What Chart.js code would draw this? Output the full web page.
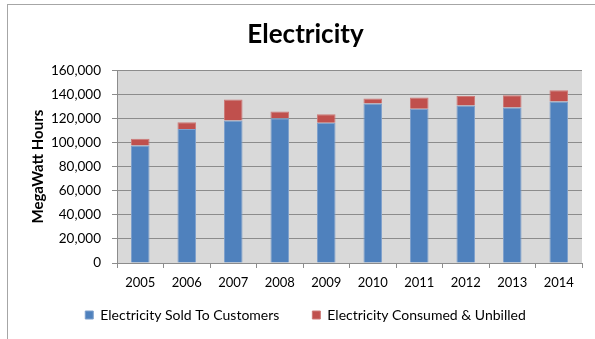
<!DOCTYPE html>
<html>
<head>
<meta charset="utf-8">
<script src="https://cdn.jsdelivr.net/npm/chart.js@4"></script>
<style>
  html, body { margin: 0; padding: 0; background: #fff; }
  #wrap { position: relative; width: 595px; height: 339px; }
  #frame { position: absolute; left: 7px; top: 4px; width: 600px; height: 340px;
           border-top: 1px solid #a6a6a6; border-left: 1px solid #a6a6a6; }
  canvas { position: absolute; left: 0; top: 0; }
</style>
</head>
<body>
<div id="wrap">
  <div id="frame"></div>
  <canvas id="elecChart" width="595" height="339"></canvas>
</div>
<script>
// values (MWh)
const years = ['2005', '2006', '2007', '2008', '2009', '2010', '2011', '2012', '2013', '2014'];
const soldToCustomers = [97600, 111100, 118300, 120200, 116400, 132400, 128000, 130800, 129100, 134100];
const consumedUnbilled = [5500, 5800, 17400, 5600, 7100, 4100, 9400, 7700, 10200, 9300];

const fontFamily = 'Lato, "Open Sans", sans-serif';

// grey plot background like the original
const plotBackground = {
    id: 'plotBackground',
    beforeDraw(chart) {
        const a = chart.chartArea;
        const ctx = chart.ctx;
        ctx.save();
        ctx.fillStyle = '#d9d9d9';
        ctx.fillRect(a.left, a.top, a.right - a.left, a.bottom - a.top);
        ctx.restore();
    }
};

// legend padding is wide (for the gap between items) so squeeze its box and lift it
const legendSpacing = {
    id: 'legendSpacing',
    beforeLayout(chart) {
        const lg = chart.legend;
        if (lg && !lg._fitPatched) {
            const fit = lg.fit;
            lg.fit = function() { fit.call(this); this.height = 36; };
            lg._fitPatched = true;
        }
    },
    afterLayout(chart) {
        const lg = chart.legend;
        if (lg) { lg.top -= 22; }
    }
};

const ctx = document.getElementById('elecChart').getContext('2d');
new Chart(ctx, {
    type: 'bar',
    data: {
        labels: years,
        datasets: [
            {
                label: 'Electricity Sold To Customers',
                data: soldToCustomers,
                backgroundColor: '#4f81bd',
                borderColor: '#7ea0cc',
                borderWidth: 1
            },
            {
                label: 'Electricity Consumed & Unbilled',
                data: consumedUnbilled,
                backgroundColor: '#c0504d',
                borderColor: '#cd7a78',
                borderWidth: 1
            }
        ]
    },
    options: {
        responsive: false,
        animation: false,
        layout: { padding: { left: 29, right: 13, top: 0, bottom: 6 } },
        datasets: { bar: { categoryPercentage: 1, barPercentage: 0.4 } },
        plugins: {
            title: {
                display: true,
                text: 'Electricity',
                color: '#000',
                font: { family: fontFamily, size: 26, weight: 'bold' },
                padding: { top: 19, bottom: 20 }
            },
            legend: {
                position: 'bottom',
                labels: {
                    color: '#000',
                    font: { family: fontFamily, size: 14 },
                    boxWidth: 8,
                    boxHeight: 8,
                    padding: 33
                }
            },
            tooltip: { enabled: false }
        },
        scales: {
            x: {
                stacked: true,
                grid: { offset: true, drawOnChartArea: false, drawTicks: true, tickLength: 5, color: '#8c8c8c' },
                border: { color: '#8c8c8c' },
                ticks: { color: '#000', padding: 7, font: { family: fontFamily, size: 13 } },
                afterFit(scale) { scale.height = 34; }
            },
            y: {
                stacked: true,
                min: 0,
                max: 160000,
                ticks: { stepSize: 20000, color: '#000', padding: 11, font: { family: fontFamily, size: 13.5 } },
                grid: { color: '#8c8c8c', tickLength: 5 },
                border: { color: '#8c8c8c' },
                title: {
                    display: true,
                    text: 'MegaWatt Hours',
                    color: '#000',
                    padding: 0,
                    font: { family: fontFamily, size: 15, weight: 'bold' }
                },
                afterFit(scale) { scale.width = 88; }
            }
        }
    },
    plugins: [plotBackground, legendSpacing]
});
</script>
</body>
</html>
